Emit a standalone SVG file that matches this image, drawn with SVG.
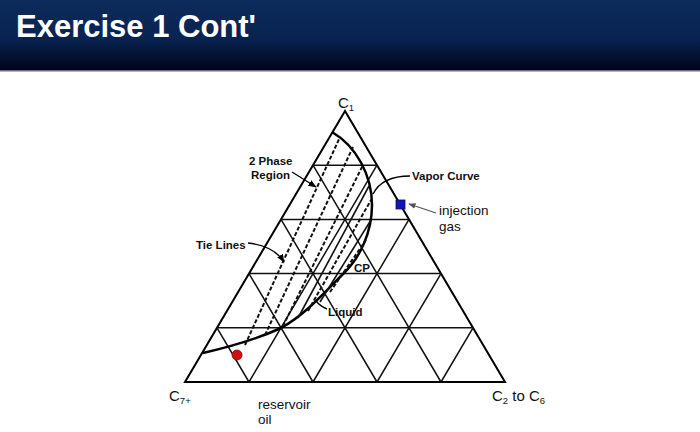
<svg xmlns="http://www.w3.org/2000/svg" width="700" height="432" viewBox="0 0 700 432">
<defs>
<linearGradient id="hdr" x1="0" y1="0" x2="0" y2="1">
<stop offset="0" stop-color="#0d2b5b"/>
<stop offset="0.55" stop-color="#082350"/>
<stop offset="1" stop-color="#01041a"/>
</linearGradient>
<marker id="ah" viewBox="0 0 10 10" refX="9" refY="5" markerWidth="6" markerHeight="6" orient="auto-start-reverse">
<path d="M0,1 L10,5 L0,9 z" fill="#000"/>
</marker>
<marker id="ahg" viewBox="0 0 10 10" refX="9" refY="5" markerWidth="6" markerHeight="6" orient="auto-start-reverse">
<path d="M0,1 L10,5 L0,9 z" fill="#555"/>
</marker>
</defs>
<style>
.edge{fill:none;stroke:#000;stroke-width:2}
.grid{fill:none;stroke:#111;stroke-width:1.5}
.curve{fill:none;stroke:#000;stroke-width:2.5}
.tie{fill:none;stroke:#111;stroke-width:2;stroke-dasharray:4 2}
.tiesolid{fill:none;stroke:#111;stroke-width:1.6}
.lead{fill:none;stroke:#000;stroke-width:1.4}
.lbl{font-family:"Liberation Sans",Arial,sans-serif;font-weight:bold;font-size:11.5px;fill:#111}
.txt{font-family:"Liberation Sans",Arial,sans-serif;font-size:13.5px;fill:#111}
.comp{font-family:"Liberation Sans",Arial,sans-serif;font-size:15px;fill:#111}
.title{font-family:"Liberation Sans",Arial,sans-serif;font-weight:bold;font-size:31px;fill:#fff}
</style>
<rect width="700" height="432" fill="#fff"/>
<g id="header">
<rect x="0" y="0" width="700" height="70" fill="url(#hdr)"/>
<rect x="0" y="70" width="700" height="1.5" fill="#6b6a8e"/>
<text class="title" x="16" y="37">Exercise 1 Cont'</text>
</g>
<g id="triangle">
<path class="edge" d="M345,111 L185,382 L505,382 Z"/>
</g>
<g id="grid">
<path class="grid" d="M217,327.8 H473 M249,273.6 H441 M281,219.4 H409 M313,165.2 H377"/>
<path class="grid" d="M249,382 L377,165.2 M313,382 L409,219.4 M377,382 L441,273.6 M441,382 L473,327.8"/>
<path class="grid" d="M249,382 L217,327.8 M313,382 L249,273.6 M377,382 L281,219.4 M441,382 L313,165.2"/>
</g>
<g id="phase-envelope">
<path class="curve" d="M332,132 C356,146 372,175 372,205 C372,232 360,258 343,274 C325,292 305,315 281,328 C255,340 225,348 203,353"/>
</g>
<g id="tie-lines">
<path class="tie" d="M245,345 L340,137"/>
<path class="tie" d="M265,335 L353,147"/>
<path class="tie" d="M283,326 L363,165"/>
<path class="tiesolid" d="M298,318 L369,186"/>
<path class="tie" d="M308,311 L371,200"/>
<path class="tiesolid" d="M320,302 L371,220"/>
<path class="tie" d="M330,292 L366,240"/>
</g>
<g id="points">
<rect id="injection-gas" x="396" y="200" width="9" height="9" fill="#1414b4" stroke="#0a0a70" stroke-width="0.8"/>
<circle id="reservoir-oil" cx="237" cy="355" r="5" fill="#d01010" stroke="#800" stroke-width="0.8"/>
</g>
<g id="connectors">
<path class="lead" d="M292,172 L316,187" marker-end="url(#ah)"/>
<path class="lead" d="M248,243 Q274,246 284,262" marker-end="url(#ah)"/>
<path class="lead" d="M410,176 Q382,176 373,194"/>
<path d="M436,213 L409,204" fill="none" stroke="#555" stroke-width="1.2" marker-end="url(#ahg)"/>
<path class="lead" d="M327,309 Q320,306 316,301"/>
</g>
<g id="labels">
<text class="comp" x="338" y="108">C<tspan font-size="9.5" dy="3">1</tspan></text>
<text class="comp" x="169" y="401">C<tspan font-size="9.5" dy="3">7+</tspan></text>
<text class="comp" x="492" y="401">C<tspan font-size="9.5" dy="3">2</tspan><tspan dy="-3"> to C</tspan><tspan font-size="9.5" dy="3">6</tspan></text>
<text class="lbl" x="249" y="165">2 Phase</text>
<text class="lbl" x="251" y="179">Region</text>
<text class="lbl" x="196" y="249">Tie Lines</text>
<text class="lbl" x="412" y="180">Vapor Curve</text>
<text class="lbl" x="354" y="272">CP</text>
<text class="lbl" x="328" y="316">Liquid</text>
<text class="txt" x="439" y="215">injection</text>
<text class="txt" x="439" y="231">gas</text>
<text class="txt" x="258" y="409">reservoir</text>
<text class="txt" x="258" y="424">oil</text>
</g>
</svg>
